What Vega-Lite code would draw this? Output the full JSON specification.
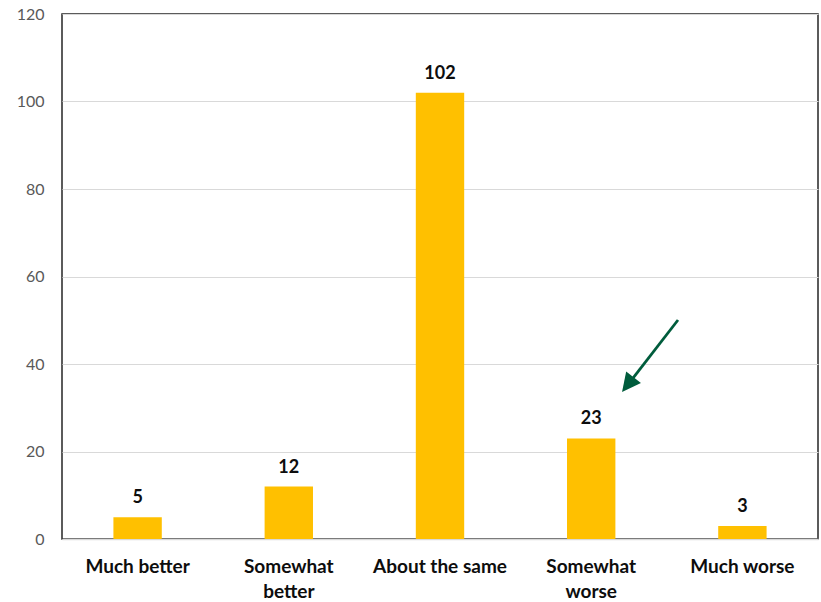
{
  "$schema": "https://vega.github.io/schema/vega-lite/v6.json",
  "width": 756,
  "height": 525,
  "autosize": {"type": "none"},
  "padding": {"left": 62, "top": 14, "right": 3, "bottom": 63},
  "background": "white",
  "config": {
    "view": {"stroke": "#262626", "strokeWidth": 1.5},
    "font": "Lato"
  },
  "datasets": {
    "bars": [
      {"category": "Much better", "count": 5},
      {"category": "Somewhat better", "count": 12},
      {"category": "About the same", "count": 102},
      {"category": "Somewhat worse", "count": 23},
      {"category": "Much worse", "count": 3}
    ],
    "arrowLine": [
      {"x": 4.074, "y": 50.06, "x2": 3.77, "y2": 36.5}
    ],
    "arrowHead": [
      {"x": 3.704, "y": 33.6}
    ]
  },
  "layer": [
    {
      "data": {"name": "bars"},
      "encoding": {
        "x": {
          "field": "category", "type": "nominal", "sort": null,
          "scale": {"type": "band", "paddingInner": 0.68, "paddingOuter": 0.34},
          "axis": {
            "title": null, "labelAngle": 0, "ticks": false,
            "domainColor": "#d9d9d9", "domainWidth": 1.5,
            "labelFont": "Lato", "labelFontSize": 19, "labelFontWeight": "bold",
            "labelColor": "#0d0d0d", "labelPadding": 18, "labelBaseline": "top",
            "labelLineHeight": 25,
            "labelExpr": "indexof(datum.label, 'Somewhat') == 0 ? split(datum.label, ' ') : datum.label"
          }
        },
        "y": {
          "field": "count", "type": "quantitative",
          "scale": {"domain": [0, 120], "nice": false},
          "axis": {
            "title": null, "values": [0, 20, 40, 60, 80, 100, 120],
            "ticks": false, "domain": false,
            "gridColor": "#d9d9d9", "gridWidth": 1.2,
            "labelFont": "Lato", "labelFontSize": 16, "labelColor": "#595959",
            "labelPadding": 18
          }
        }
      },
      "layer": [
        {"mark": {"type": "bar", "color": "#FFC000"}},
        {
          "mark": {"type": "text", "dy": -14, "baseline": "alphabetic", "fontSize": 18, "fontWeight": "bold", "font": "Lato", "color": "#0d0d0d"},
          "encoding": {"text": {"field": "count", "type": "quantitative"}}
        }
      ]
    },
    {
      "data": {"name": "arrowLine"},
      "mark": {"type": "rule", "color": "#005C3C", "strokeWidth": 2.8},
      "encoding": {
        "x": {"field": "x", "type": "quantitative", "scale": {"domain": [0, 5], "nice": false, "zero": false}, "axis": null},
        "y": {"field": "y", "type": "quantitative"},
        "x2": {"field": "x2"},
        "y2": {"field": "y2"}
      }
    },
    {
      "data": {"name": "arrowHead"},
      "mark": {"type": "point", "shape": "M0,0 L0.5,1 L-0.5,1 Z", "filled": true, "color": "#005C3C", "opacity": 1, "size": 1400, "angle": 218},
      "encoding": {
        "x": {"field": "x", "type": "quantitative", "scale": {"domain": [0, 5], "nice": false, "zero": false}, "axis": null},
        "y": {"field": "y", "type": "quantitative"}
      }
    }
  ],
  "resolve": {"scale": {"x": "independent"}}
}
